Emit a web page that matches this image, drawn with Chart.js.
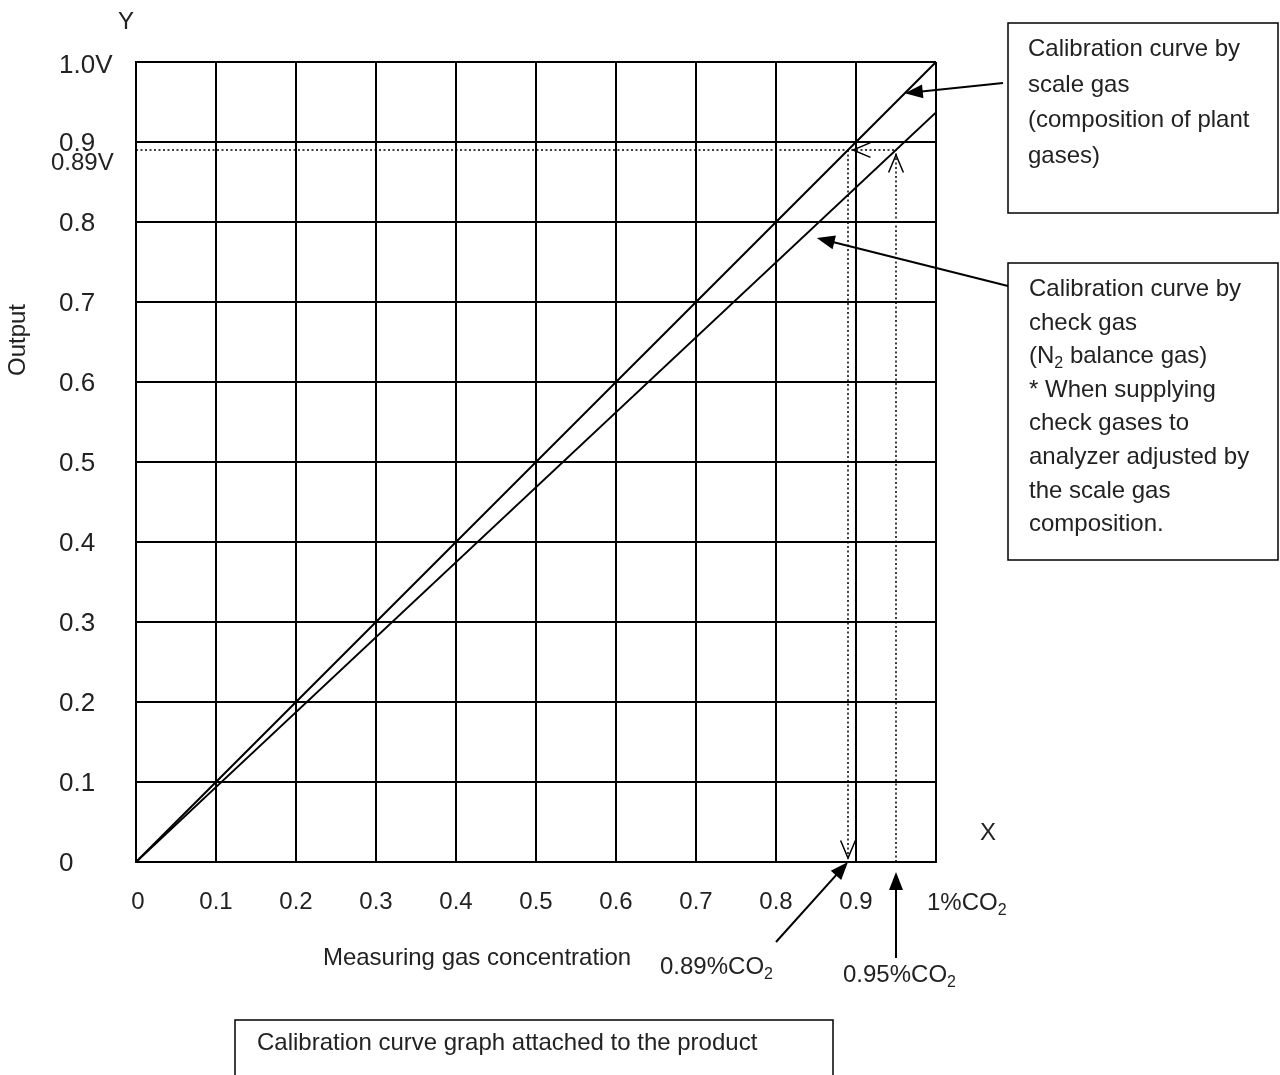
<!DOCTYPE html>
<html>
<head>
<meta charset="utf-8">
<script src="https://cdn.jsdelivr.net/npm/chart.js@4/dist/chart.umd.min.js"></script>
<style>
  html, body { margin: 0; padding: 0; background: #fff; }
  #wrap { width: 1280px; height: 1075px; }
</style>
</head>
<body>
<div id="wrap"><canvas id="chart" width="1280" height="1075"></canvas></div>
<script>
// ---- data ----
const xTickValues = [0, 0.1, 0.2, 0.3, 0.4, 0.5, 0.6, 0.7, 0.8, 0.9];
const xTickLabels = ["0", "0.1", "0.2", "0.3", "0.4", "0.5", "0.6", "0.7", "0.8", "0.9"];
const yTickValues = [0, 0.1, 0.2, 0.3, 0.4, 0.5, 0.6, 0.7, 0.8, 0.9, 1.0];
const yTickLabels = ["0", "0.1", "0.2", "0.3", "0.4", "0.5", "0.6", "0.7", "0.8", "0.9", "1.0V"];

// calibration curves (concentration %CO2 -> output V)
const scaleGasX = [0, 1];
const scaleGasY = [0, 1];
const checkGasX = [0, 1];
const checkGasY = [0, 0.937];

// reading example
const readOutput = 0.89;   // V
const readScale = 0.89;    // %CO2 on scale gas curve
const readCheck = 0.95;    // %CO2 on check gas curve

const FONT = '"Liberation Sans", Arial, sans-serif';
const TXT = "#222";

function pts(xs, ys) {
  return xs.map((x, i) => ({ x: x, y: ys[i] }));
}

// rich text with subscripts: parts = [[text, isSub], ...]
function drawRich(ctx, parts, x, y, align, size) {
  size = size || 24;
  const sub = Math.round(size * 0.67);
  ctx.save();
  ctx.textBaseline = "alphabetic";
  ctx.textAlign = "left";
  let w = 0;
  parts.forEach(p => {
    ctx.font = (p[1] ? sub : size) + "px " + FONT;
    w += ctx.measureText(p[0]).width;
  });
  let cx = x;
  if (align === "center") cx = x - w / 2;
  if (align === "right") cx = x - w;
  parts.forEach(p => {
    ctx.font = (p[1] ? sub : size) + "px " + FONT;
    ctx.fillText(p[0], cx, p[1] ? y + size * 0.2 : y);
    cx += ctx.measureText(p[0]).width;
  });
  ctx.restore();
}

function arrow(ctx, x1, y1, x2, y2) {
  const a = Math.atan2(y2 - y1, x2 - x1);
  const len = 18, half = 7;
  ctx.beginPath();
  ctx.moveTo(x1, y1);
  ctx.lineTo(x2 - Math.cos(a) * len * 0.8, y2 - Math.sin(a) * len * 0.8);
  ctx.stroke();
  ctx.beginPath();
  ctx.moveTo(x2, y2);
  ctx.lineTo(x2 - Math.cos(a) * len + Math.sin(a) * half, y2 - Math.sin(a) * len - Math.cos(a) * half);
  ctx.lineTo(x2 - Math.cos(a) * len - Math.sin(a) * half, y2 - Math.sin(a) * len + Math.cos(a) * half);
  ctx.closePath();
  ctx.fill();
}

function openHead(ctx, x, y, dir) {
  // dir: angle the arrow points toward
  const len = 19, spread = 0.4;
  ctx.beginPath();
  ctx.moveTo(x - Math.cos(dir - spread) * len, y - Math.sin(dir - spread) * len);
  ctx.lineTo(x, y);
  ctx.lineTo(x - Math.cos(dir + spread) * len, y - Math.sin(dir + spread) * len);
  ctx.stroke();
}

function box(ctx, x, y, w, h, lines, x0, y0, lh) {
  ctx.save();
  ctx.strokeStyle = "#000";
  ctx.lineWidth = 1.5;
  ctx.strokeRect(x, y, w, h);
  ctx.fillStyle = TXT;
  lines.forEach((ln, i) => drawRich(ctx, ln, x0, y0 + i * lh, "left"));
  ctx.restore();
}

const decorations = {
  id: "decorations",
  afterDraw(chart) {
    const ctx = chart.ctx;
    const xs = chart.scales.x, ys = chart.scales.y;
    const area = chart.chartArea;
    ctx.save();
    ctx.fillStyle = TXT;

    // y tick labels
    ctx.font = "26px " + FONT;
    ctx.textBaseline = "middle";
    ctx.textAlign = "left";
    yTickValues.forEach((v, i) => {
      const off = i === yTickValues.length - 1 ? 4 : 2;
      ctx.fillText(yTickLabels[i], 59, ys.getPixelForValue(v) + off);
    });
    ctx.font = "24px " + FONT;
    ctx.fillText(readOutput + "V", 51, ys.getPixelForValue(readOutput) + 13);

    // x tick labels
    ctx.textAlign = "center";
    xTickValues.forEach((v, i) => {
      const px = xs.getPixelForValue(v);
      ctx.fillText(xTickLabels[i], i === 0 ? px + 2 : px, area.bottom + 40);
    });
    drawRich(ctx, [["1%CO", false], ["2", true]], area.right - 9, area.bottom + 48, "left");

    // axis titles
    ctx.textAlign = "center";
    ctx.textBaseline = "middle";
    ctx.fillText("Y", 126, 22);
    ctx.fillText("X", 988, 833);
    ctx.fillText("Measuring gas concentration", 477, 958);
    ctx.save();
    ctx.translate(18, 340);
    ctx.rotate(-Math.PI / 2);
    ctx.fillText("Output", 0, 0);
    ctx.restore();

    // reading labels
    drawRich(ctx, [[readScale + "%CO", false], ["2", true]], 660, 974, "left");
    drawRich(ctx, [[readCheck + "%CO", false], ["2", true]], 843, 982, "left");

    // open arrowheads on the dotted guides
    ctx.strokeStyle = "#000";
    ctx.lineWidth = 1.5;
    const yRead = ys.getPixelForValue(readOutput);
    openHead(ctx, xs.getPixelForValue(readScale) + 5, yRead, Math.PI);
    openHead(ctx, xs.getPixelForValue(readScale), ys.getPixelForValue(0) - 4, Math.PI / 2);
    openHead(ctx, xs.getPixelForValue(readCheck), yRead + 5, -Math.PI / 2);

    // pointer arrows
    ctx.fillStyle = "#000";
    ctx.lineWidth = 2;
    arrow(ctx, 1003, 83, xs.getPixelForValue(0.961), ys.getPixelForValue(0.961));
    arrow(ctx, 1008, 286, xs.getPixelForValue(0.851), ys.getPixelForValue(0.78));
    arrow(ctx, 776, 942, xs.getPixelForValue(readScale), ys.getPixelForValue(0));
    arrow(ctx, xs.getPixelForValue(readCheck), 958, xs.getPixelForValue(readCheck), ys.getPixelForValue(0) + 10);

    // note boxes
    box(ctx, 1008, 23, 270, 190, [
      [["Calibration curve by", false]],
      [["scale gas", false]],
      [["(composition of plant", false]],
      [["gases)", false]]
    ], 1028, 56, 35.5);
    box(ctx, 1008, 263, 270, 297, [
      [["Calibration curve by", false]],
      [["check gas", false]],
      [["(N", false], ["2", true], [" balance gas)", false]],
      [["* When supplying", false]],
      [["check gases to", false]],
      [["analyzer adjusted by", false]],
      [["the scale gas", false]],
      [["composition.", false]]
    ], 1029, 296, 33.6);
    box(ctx, 235, 1020, 598, 70, [
      [["Calibration curve graph attached to the product", false]]
    ], 257, 1050, 34);

    ctx.restore();
  }
};

const lineStyle = { borderColor: "#000", borderWidth: 2, pointRadius: 0, showLine: true, fill: false, tension: 0 };
const dotStyle = { borderColor: "#000", borderWidth: 1.5, borderDash: [2, 2.5], pointRadius: 0, showLine: true, fill: false };

new Chart(document.getElementById("chart"), {
  type: "scatter",
  data: {
    datasets: [
      Object.assign({ label: "Calibration curve by scale gas", data: pts(scaleGasX, scaleGasY) }, lineStyle),
      Object.assign({ label: "Calibration curve by check gas", data: pts(checkGasX, checkGasY) }, lineStyle),
      Object.assign({ label: "output guide", data: [{ x: 0, y: readOutput }, { x: readCheck, y: readOutput }] }, dotStyle),
      Object.assign({ label: "scale guide", data: [{ x: readScale, y: readOutput }, { x: readScale, y: 0 }] }, dotStyle),
      Object.assign({ label: "check guide", data: [{ x: readCheck, y: 0 }, { x: readCheck, y: readOutput }] }, dotStyle)
    ]
  },
  options: {
    responsive: false,
    animation: false,
    layout: { padding: { left: 136, top: 62, right: 344, bottom: 213 } },
    plugins: { legend: { display: false }, tooltip: { enabled: false } },
    scales: {
      x: {
        type: "linear", min: 0, max: 1,
        ticks: { display: false, stepSize: 0.1 },
        grid: { color: "#000", lineWidth: 2, drawTicks: false },
        border: { display: true, color: "#000", width: 2 }
      },
      y: {
        type: "linear", min: 0, max: 1,
        ticks: { display: false, stepSize: 0.1 },
        grid: { color: "#000", lineWidth: 2, drawTicks: false },
        border: { display: true, color: "#000", width: 2 }
      }
    }
  },
  plugins: [decorations]
});
</script>
</body>
</html>
